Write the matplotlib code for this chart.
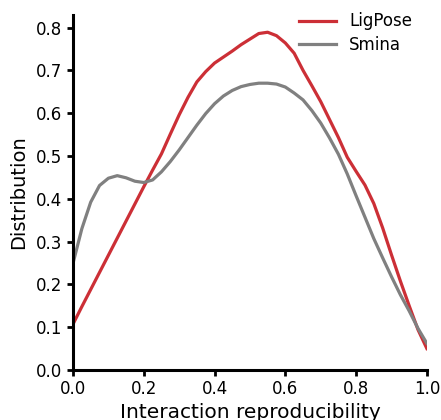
import matplotlib
matplotlib.use('Agg')
import matplotlib.pyplot as plt
import numpy as np

# x grid (step 0.025)
x = np.linspace(0, 1, 41)

# LigPose density curve
ligpose = [0.107, 0.148, 0.188, 0.228, 0.268, 0.308, 0.348, 0.388, 0.428, 0.467,
           0.505, 0.551, 0.596, 0.637, 0.673, 0.697, 0.717, 0.731, 0.745, 0.760,
           0.773, 0.786, 0.789, 0.781, 0.764, 0.740, 0.700, 0.664, 0.627, 0.585,
           0.543, 0.497, 0.464, 0.432, 0.389, 0.332, 0.269, 0.208, 0.150, 0.094,
           0.050]

# Smina density curve
smina = [0.249, 0.330, 0.392, 0.431, 0.448, 0.454, 0.449, 0.441, 0.438, 0.444,
         0.463, 0.487, 0.514, 0.543, 0.572, 0.599, 0.622, 0.640, 0.653, 0.662,
         0.667, 0.670, 0.670, 0.668, 0.661, 0.647, 0.631, 0.606, 0.577, 0.542,
         0.504, 0.458, 0.407, 0.357, 0.307, 0.262, 0.218, 0.176, 0.138, 0.097,
         0.062]

color_lig = '#cc2f36'
color_smi = '#808080'

fig = plt.figure(figsize=(4.41, 4.20), dpi=100)
ax = fig.add_axes([0.1655, 0.119, 0.8025, 0.845])

ax.plot(x, ligpose, color=color_lig, lw=2.3, label='LigPose')
ax.plot(x, smina, color=color_smi, lw=2.3, label='Smina')

ax.set_xlim(0, 1)
ax.set_ylim(0, 0.829)
ax.set_xticks([0, 0.2, 0.4, 0.6, 0.8, 1.0])
ax.set_yticks([0, 0.1, 0.2, 0.3, 0.4, 0.5, 0.6, 0.7, 0.8])
ax.xaxis.set_major_formatter(matplotlib.ticker.FormatStrFormatter('%.1f'))
ax.yaxis.set_major_formatter(matplotlib.ticker.FormatStrFormatter('%.1f'))

for s in ['top', 'right']:
    ax.spines[s].set_visible(False)
for s in ['left', 'bottom']:
    ax.spines[s].set_linewidth(2.2)
ax.tick_params(width=2.0, length=4, labelsize=12)

ax.set_xlabel('Interaction reproducibility', fontsize=14.5, labelpad=3)
ax.set_ylabel('Distribution', fontsize=14, labelpad=6)

ax.legend(loc='upper right', bbox_to_anchor=(1.0, 1.05), frameon=False,
          fontsize=12, handlelength=2.2, labelspacing=0.35)

fig.savefig('out.png', dpi=100)
